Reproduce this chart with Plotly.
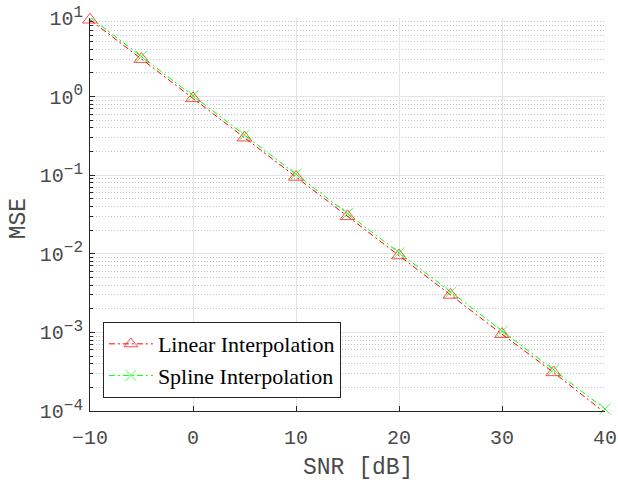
import plotly.graph_objects as go

snr_db = [-10, -5, 0, 5, 10, 15, 20, 25, 30, 35, 40]
mse_linear = [9.5, 3.0, 0.95, 0.30, 0.095, 0.030, 0.0095, 0.0030, 0.00095, 0.00031, 0.000095]
mse_spline = [10.2, 3.25, 1.03, 0.325, 0.103, 0.0325, 0.0103, 0.00325, 0.00103, 0.000335, 0.000106]

x_ticks = [-10, 0, 10, 20, 30, 40]
x_ticktext = ["\u221210", "0", "10", "20", "30", "40"]
y_exps = [-4, -3, -2, -1, 0, 1]
y_ticktext = ["10<sup><span style='font-size:16px'>%s</span></sup>" % (str(e).replace("-", "\u2212"))
              for e in y_exps]

AX = "#262626"
TXT = "#4a4a4a"
GRID = "#e3e3e3"
MINOR = "#c4c4c4"
MONO = "Liberation Mono"
SERIF = "Liberation Serif"
Y_MIN, Y_MAX = 10 ** y_exps[0], 10 ** y_exps[-1]

# like MATLAB: markers of points outside the axis limits are not drawn
lin_sizes = [13 if Y_MIN <= v <= Y_MAX * 1.05 else 0 for v in mse_linear]
spl_sizes = [11 if Y_MIN <= v <= Y_MAX * 1.05 else 0 for v in mse_spline]

fig = go.Figure()
fig.add_trace(go.Scatter(
    x=snr_db, y=mse_linear, name="Linear Interpolation", mode="lines+markers",
    line=dict(color="#ff0000", width=1, dash="6px,3px,2px,3px"), cliponaxis=False,
    marker=dict(symbol="triangle-up-open", size=lin_sizes, color="#ff0000", line=dict(width=1, color="#ff0000")),
))
fig.add_trace(go.Scatter(
    x=snr_db, y=mse_spline, name="Spline Interpolation", mode="lines+markers",
    line=dict(color="#00ff00", width=1, dash="6px,3px,2px,3px"), cliponaxis=False,
    marker=dict(symbol="x-thin-open", size=spl_sizes, color="#00ff00", line=dict(width=1, color="#00ff00")),
))

minor_y = [m * 10 ** e for e in range(-4, 1) for m in range(2, 10)]

fig.update_layout(
    width=618, height=483,
    margin=dict(l=90, r=13, t=18, b=72, autoexpand=False),
    paper_bgcolor="white", plot_bgcolor="white",
    showlegend=True,
    legend=dict(
        x=0.025, y=0.033, xanchor="left", yanchor="bottom",
        bgcolor="white", bordercolor=AX, borderwidth=1,
        font=dict(family=SERIF, size=22, color="black"),
        itemwidth=44, tracegroupgap=0,
    ),
    xaxis=dict(
        range=[-10, 40], tickvals=x_ticks, ticktext=x_ticktext, automargin=False,
        showline=True, linecolor=AX, linewidth=1, mirror=False,
        ticks="inside", ticklen=5, tickcolor=AX, ticklabelstandoff=8,
        ticklabeloverflow="allow",
        showgrid=True, gridcolor=GRID, gridwidth=1, zeroline=False,
        tickfont=dict(family=MONO, size=20, color=TXT),
    ),
    yaxis=dict(
        type="log", range=[-4, 1], tickvals=[10 ** e for e in y_exps], ticktext=y_ticktext,
        automargin=False, ticklabeloverflow="allow",
        showline=True, linecolor=AX, linewidth=1, mirror=False,
        ticks="inside", ticklen=5, tickcolor=AX, ticklabelstandoff=2,
        showgrid=True, gridcolor=GRID, gridwidth=1, zeroline=False,
        tickfont=dict(family=MONO, size=20, color=TXT),
        minor=dict(tickvals=minor_y, ticks="inside", ticklen=3, tickcolor=AX,
                   showgrid=True, gridcolor=MINOR, griddash="1px,2px", gridwidth=1),
    ),
    annotations=[
        dict(text="SNR [dB]", xref="paper", yref="paper", x=0.52, y=-0.145,
             xanchor="center", yanchor="middle", showarrow=False,
             font=dict(family=MONO, size=23, color=TXT)),
        dict(text="MSE", xref="paper", yref="paper", x=-0.138, y=0.49,
             xanchor="center", yanchor="middle", showarrow=False, textangle=-90,
             font=dict(family=MONO, size=23, color=TXT)),
    ],
)

fig.write_html("out.html", config={"displayModeBar": False},
               post_script="document.body.style.margin='0';")
